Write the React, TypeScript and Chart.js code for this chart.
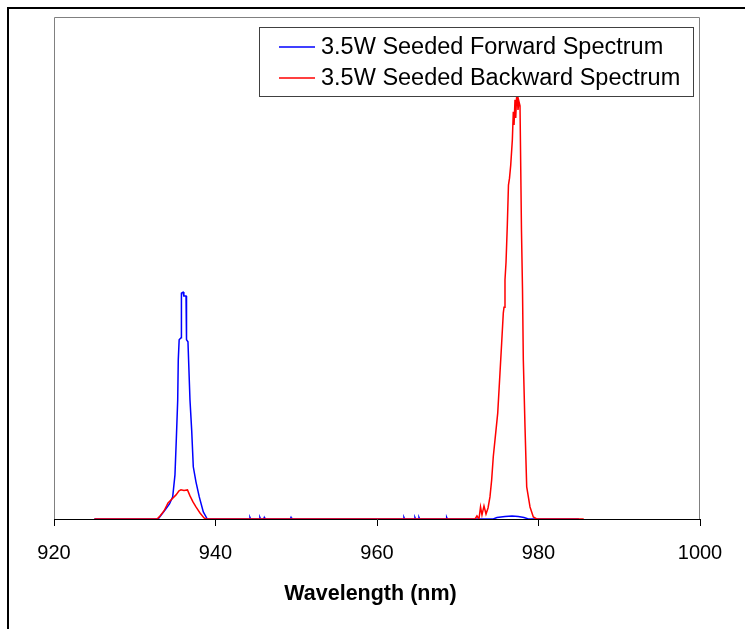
import React, { useEffect, useRef } from 'react';
import { Chart, registerables } from 'chart.js';

Chart.register(...registerables);

const seriesLabels = ['3.5W Seeded Forward Spectrum', '3.5W Seeded Backward Spectrum'];
const axisTitle = 'Wavelength (nm)';
const xTicks = [920, 940, 960, 980, 1000];

const forwardWavelength = [
  925, 932.9, 933.75, 934.3, 934.7, 934.98, 935.15, 935.32, 935.39, 935.5, 935.73, 935.78, 935.98,
  936.08, 936.35, 936.41, 936.59, 936.84, 937.05, 937.25, 937.58, 937.99, 938.49, 938.98,
  944.2, 944.27, 944.35, 945.42, 945.5, 945.58, 945.97, 946.04, 946.12, 949.27, 949.35, 949.43,
  963.26, 963.34, 963.42, 964.62, 964.7, 964.78, 965.12, 965.2, 965.28, 968.55, 968.63, 968.71,
  974.4, 974.86, 975.85, 976.72, 977.5, 978.2, 978.74, 985,
];
const forwardIntensity = [
  0, 0, 0.018, 0.03, 0.044, 0.088, 0.16, 0.237, 0.317, 0.357, 0.361, 0.45, 0.452,
  0.444, 0.444, 0.357, 0.353, 0.237, 0.177, 0.104, 0.074, 0.044, 0.014, 0,
  0, 0.003, 0, 0, 0.003, 0, 0, 0.003, 0, 0, 0.003, 0,
  0, 0.003, 0, 0, 0.003, 0, 0, 0.003, 0, 0, 0.003, 0,
  0, 0.003, 0.005, 0.006, 0.005, 0.003, 0, 0,
];

const backwardWavelength = [
  925, 932.76, 933.13, 933.62, 934.12, 934.61, 935.11, 935.48, 935.73, 936.1, 936.53, 936.84,
  937.21, 937.58, 938.08, 938.58, 938.82,
  972.14, 972.38, 972.63, 972.82, 973.0, 973.25, 973.5, 973.75, 973.99, 974.2, 974.4, 974.61,
  974.95, 975.23, 975.44, 975.64, 975.73, 975.85, 975.98, 976.14, 976.28, 976.41, 976.56, 976.76,
  976.88, 976.97, 977.09, 977.18, 977.28, 977.37, 977.46, 977.59, 977.71, 977.89, 978.02, 978.12,
  978.33, 978.54, 978.95, 979.36, 979.78, 985.6,
];
const backwardIntensity = [
  0, 0, 0.006, 0.016, 0.032, 0.04, 0.048, 0.056, 0.058, 0.057, 0.058, 0.046,
  0.034, 0.024, 0.012, 0.002, 0,
  0, 0.006, 0, 0.024, 0.008, 0.026, 0.01, 0.022, 0.044, 0.078, 0.124, 0.157,
  0.211, 0.291, 0.351, 0.41, 0.422, 0.476, 0.512, 0.586, 0.665, 0.679, 0.705, 0.755,
  0.811, 0.785, 0.835, 0.799, 0.839, 0.841, 0.815, 0.831, 0.823, 0.576, 0.456, 0.317,
  0.183, 0.064, 0.024, 0.004, 0, 0,
];

const seriesColors = ['#0000ff', '#ff0000'];
const FONT = '"Liberation Sans", Arial, Helvetica, sans-serif';

const framePlugin = {
  id: 'frameAndLegend',
  beforeDatasetsDraw(chart: any) {
    const { ctx, chartArea } = chart;
    const { left, right, top, bottom } = chartArea;
    ctx.save();
    ctx.strokeStyle = '#808080';
    ctx.lineWidth = 1;
    ctx.beginPath();
    ctx.moveTo(left + 0.5, bottom);
    ctx.lineTo(left + 0.5, top + 0.5);
    ctx.lineTo(right - 0.5, top + 0.5);
    ctx.lineTo(right - 0.5, bottom);
    ctx.stroke();
    ctx.restore();
  },
  afterDraw(chart: any) {
    const { ctx, chartArea } = chart;
    const bx = chartArea.left + 205;
    const by = chartArea.top + 10;
    const bw = 435;
    const bh = 70;
    ctx.save();
    ctx.fillStyle = '#ffffff';
    ctx.fillRect(bx, by, bw, bh);
    ctx.strokeStyle = '#404040';
    ctx.lineWidth = 1;
    ctx.strokeRect(bx + 0.5, by + 0.5, bw - 1, bh - 1);
    ctx.font = `23.5px ${FONT}`;
    ctx.textBaseline = 'middle';
    ctx.textAlign = 'left';
    seriesLabels.forEach((label, i) => {
      const cy = by + 20 + i * 31;
      ctx.strokeStyle = seriesColors[i];
      ctx.lineWidth = 1.5;
      ctx.beginPath();
      ctx.moveTo(bx + 20, cy);
      ctx.lineTo(bx + 56, cy);
      ctx.stroke();
      ctx.fillStyle = '#000000';
      ctx.fillText(label, bx + 62, cy + 1);
    });
    // axis title
    ctx.font = `bold 21.5px ${FONT}`;
    ctx.textAlign = 'center';
    ctx.textBaseline = 'middle';
    ctx.fillStyle = '#000000';
    ctx.fillText(axisTitle, (chartArea.left + chartArea.right) / 2 - 6.5, chartArea.bottom + 75);
    ctx.restore();
  },
};

export default function App() {
  const canvasRef = useRef<HTMLCanvasElement | null>(null);

  useEffect(() => {
    const canvas = canvasRef.current;
    if (!canvas) return;
    const chart = new Chart(canvas, {
      type: 'line',
      data: {
        datasets: [
          {
            label: seriesLabels[0],
            data: forwardWavelength.map((x, i) => ({ x, y: forwardIntensity[i] })),
            borderColor: seriesColors[0],
            borderWidth: 1.5,
            pointRadius: 0,
            tension: 0,
            fill: false,
            order: 2,
          },
          {
            label: seriesLabels[1],
            data: backwardWavelength.map((x, i) => ({ x, y: backwardIntensity[i] })),
            borderColor: seriesColors[1],
            borderWidth: 1.5,
            pointRadius: 0,
            tension: 0,
            fill: false,
            order: 1,
          },
        ],
      },
      options: {
        animation: false,
        responsive: false,
        devicePixelRatio: 1,
        layout: { padding: { left: 54, right: 45, top: 17, bottom: 0 } },
        plugins: { legend: { display: false }, tooltip: { enabled: false } },
        scales: {
          x: {
            type: 'linear',
            min: 920,
            max: 1000,
            afterBuildTicks: (s: any) => {
              s.ticks = xTicks.map((v) => ({ value: v }));
            },
            afterFit: (s: any) => {
              s.height = 110;
            },
            grid: {
              display: true,
              drawOnChartArea: false,
              drawTicks: true,
              tickLength: 7,
              color: '#000000',
              lineWidth: 1,
            },
            border: { display: true, color: '#000000', width: 1 },
            ticks: {
              color: '#000000',
              font: { family: FONT, size: 20 },
              padding: 15,
              maxRotation: 0,
              autoSkip: false,
              callback: (v: any) => String(v),
            },
            title: { display: false, text: axisTitle },
          },
          y: { display: false, min: 0, max: 1 },
        },
      },
      plugins: [framePlugin],
    } as any);
    return () => chart.destroy();
  }, []);

  return (
    <div
      style={{
        position: 'fixed',
        left: 0,
        top: 0,
        width: 745,
        height: 629,
        overflow: 'hidden',
        background: '#ffffff',
      }}
    >
      <canvas
        ref={canvasRef}
        width={745}
        height={629}
        style={{ position: 'absolute', left: 0, top: 0, width: 745, height: 629 }}
      />
      <div
        style={{
          position: 'absolute',
          left: 7,
          top: 7,
          width: 800,
          height: 700,
          border: '2px solid #000000',
          pointerEvents: 'none',
        }}
      />
    </div>
  );
}
